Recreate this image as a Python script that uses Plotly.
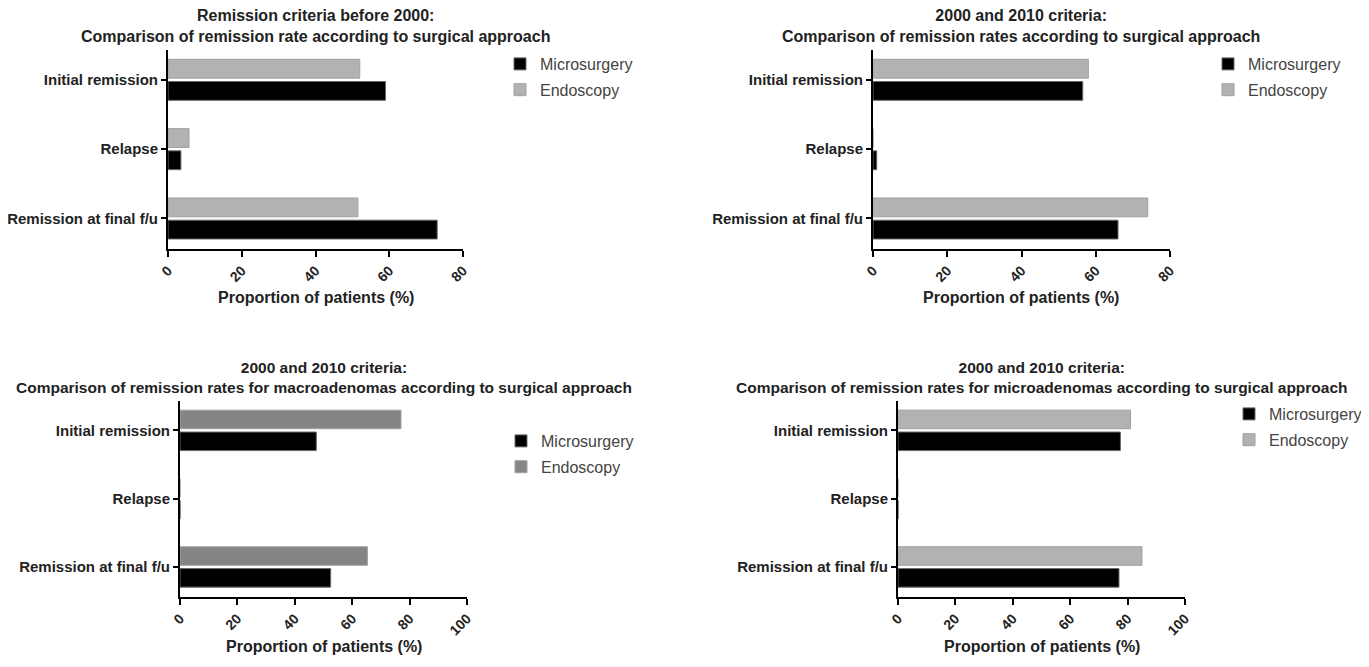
import plotly.graph_objects as go

OFF = 8  # default body margin of the html page
W, H = 1369 - 2 * OFF, 667 - 2 * OFF

categories = ["Initial remission", "Relapse", "Remission at final f/u"]
series_names = ["Microsurgery", "Endoscopy"]

p1_micro = [59, 3.5, 73]
p1_endo = [52, 5.7, 51.5]
p2_micro = [56.5, 1.0, 66]
p2_endo = [58, 0, 74]
p3_micro = [47.5, 0, 52.5]
p3_endo = [77, 0, 65.3]
p4_micro = [77.5, 0, 77]
p4_endo = [81, 0, 85]

titles = [
    "Remission criteria before 2000:<br>Comparison of remission rate according to surgical approach",
    "2000 and 2010 criteria:<br>Comparison of remission rates according to surgical approach",
    "2000 and 2010 criteria:<br>Comparison of remission rates for macroadenomas according to surgical approach",
    "2000 and 2010 criteria:<br>Comparison of remission rates for microadenomas according to surgical approach",
]
x_title = "Proportion of patients (%)"
x_max = [80, 80, 100, 100]

# pixel boxes of plot areas in window coords: (x0, x1, ytop, ybottom)
boxes = [(168, 463, 50, 249), (873, 1170, 50, 249), (180, 467, 401, 597), (898, 1185, 401, 597)]
legend_pos = [(500, 47), (1208, 47), (501, 424), (1229, 397)]
title_sizes = [16, 16, 15.5, 15.5]
endo_colors = ["#b2b2b4", "#b2b2b4", "#858585", "#b2b2b4"]

data = [(p1_micro, p1_endo), (p2_micro, p2_endo), (p3_micro, p3_endo), (p4_micro, p4_endo)]


def fx(px):
    return (px - OFF) / W


def fy(py):
    return 1 - (py - OFF) / H


FONT = "Liberation Sans, Arial, sans-serif"
fig = go.Figure()
layout = dict(
    width=W, height=H, margin=dict(l=0, r=0, t=0, b=0, autoexpand=False),
    paper_bgcolor="white", plot_bgcolor="white",
    barmode="group", bargap=0.36, bargroupgap=0.15,
    font=dict(family=FONT, color="#222222"),
)
annotations = []
for i, ((micro, endo), (x0, x1, yt, yb)) in enumerate(zip(data, boxes)):
    n = i + 1
    xa = "x" if n == 1 else f"x{n}"
    ya = "y" if n == 1 else f"y{n}"
    lg = "legend" if n == 1 else f"legend{n}"
    fig.add_trace(go.Bar(
        y=categories, x=endo, name=series_names[1], orientation="h",
        xaxis=xa, yaxis=ya, legend=lg, legendgroup=f"e{n}", legendrank=2,
        marker=dict(color=endo_colors[i], line=dict(color="#a0a0a0", width=1)),
    ))
    fig.add_trace(go.Bar(
        y=categories, x=micro, name=series_names[0], orientation="h",
        xaxis=xa, yaxis=ya, legend=lg, legendgroup=f"m{n}", legendrank=1,
        marker=dict(color="#000000", line=dict(color="#6a6a6a", width=1)),
    ))
    layout[f"xaxis{'' if n == 1 else n}"] = dict(
        domain=[fx(x0), fx(x1)], anchor=ya, range=[0, x_max[i]], dtick=20, tick0=0,
        showline=True, linecolor="black", linewidth=2,
        ticks="outside", ticklen=6, tickwidth=2, tickcolor="black",
        tickangle=-45, showgrid=False, zeroline=False, automargin=False,
        tickfont=dict(family=FONT, size=14, color="#222222", weight="bold"),
    )
    layout[f"yaxis{'' if n == 1 else n}"] = dict(
        domain=[fy(yb), fy(yt)], anchor=xa, type="category",
        categoryorder="array", categoryarray=categories, range=[2.44, -0.43],
        showline=True, linecolor="black", linewidth=2,
        ticks="outside", ticklen=5, tickwidth=2, tickcolor="black",
        showgrid=False, zeroline=False, automargin=False,
        tickfont=dict(family=FONT, size=15, color="#222222", weight="bold"),
    )
    lx, ly = legend_pos[i]
    layout[lg] = dict(
        x=fx(lx), y=fy(ly), xanchor="left", yanchor="top",
        bgcolor="rgba(0,0,0,0)", tracegroupgap=2, traceorder="grouped",
        font=dict(family=FONT, size=16, color="#444444"),
    )
    annotations.append(dict(
        text=f"<b>{titles[i]}</b>", xref="paper", yref="paper",
        x=fx((x0 + x1) / 2), y=fy(yt - 3), xanchor="center", yanchor="bottom",
        showarrow=False, font=dict(family=FONT, size=title_sizes[i], color="#222222"),
    ))
    annotations.append(dict(
        text=f"<b>{x_title}</b>", xref="paper", yref="paper",
        x=fx((x0 + x1) / 2), y=fy(yb + 49), xanchor="center", yanchor="middle",
        showarrow=False, font=dict(family=FONT, size=16, color="#222222"),
    ))

layout["annotations"] = annotations
fig.update_layout(**layout)
fig.write_html("out.html")
